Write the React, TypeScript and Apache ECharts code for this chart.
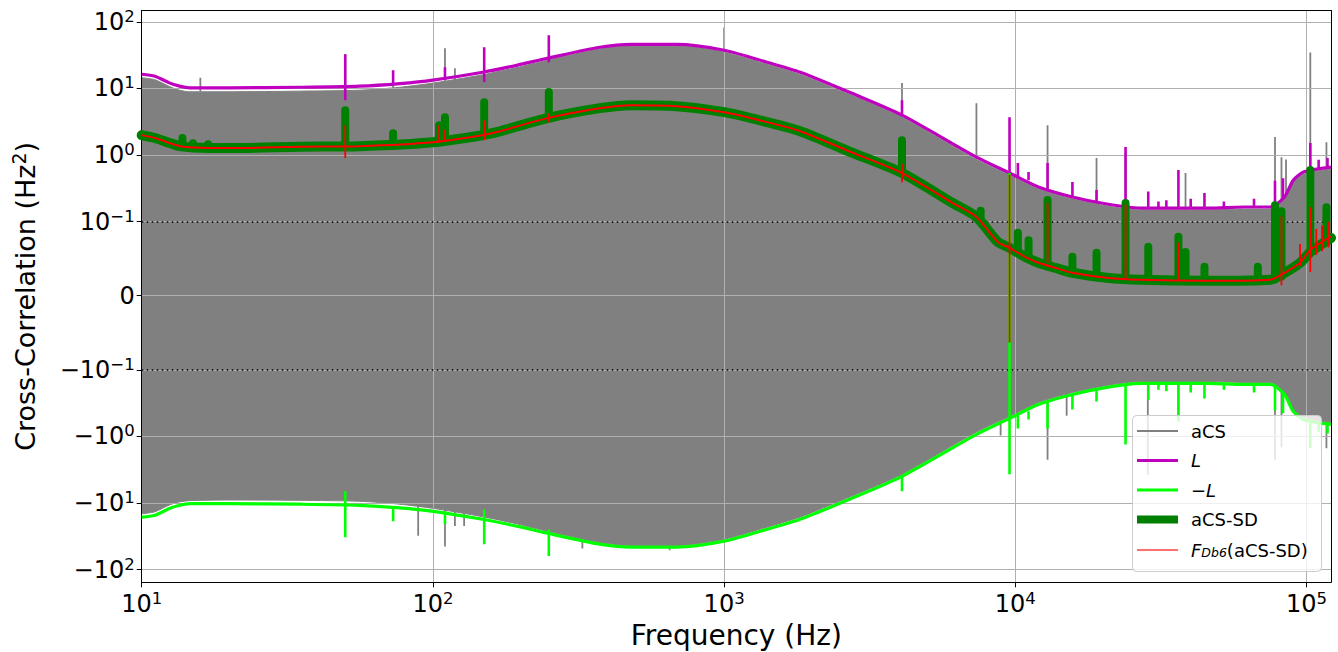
import React, { useEffect, useRef } from 'react';
import * as echarts from 'echarts';

// ---------- axes ----------
const X_MIN_HZ = 10;
const X_MAX_HZ = 121300;
const X_TICK_EXPONENTS = [1, 2, 3, 4, 5];
const Y_TICK_VALUES = [-100, -10, -1, -0.1, 0, 0.1, 1, 10, 100];
const Y_MIN_T = -4.3;
const Y_MAX_T = 4.28;
const DOTTED_LEVELS = [0.1, -0.1];

// ---------- L envelope (Hz, Hz^2) ----------
const FREQ_L = [10, 11.1, 12.5, 13.5, 14.6, 20, 35, 56, 77, 100, 148, 194, 247, 374, 483, 687, 1000, 1404, 1825, 2720, 4080, 7350, 9550, 12000, 15700, 20600, 26900, 46200, 60700, 75000, 84000, 90000, 98000, 121300];
const VAL_L = [16.3, 15.2, 12.0, 10.8, 10.2, 10.2, 10.4, 10.8, 11.8, 13.3, 17.5, 22.2, 28.3, 41.4, 45.8, 45.8, 37.3, 24.7, 17.5, 8.6, 3.97, 0.93, 0.537, 0.332, 0.235, 0.184, 0.16, 0.16, 0.166, 0.166, 0.235, 0.42, 0.56, 0.66];
const VAL_NEG_L = [-16.3, -15.2, -12.0, -10.8, -10.2, -10.2, -10.4, -10.8, -11.8, -13.3, -17.5, -22.2, -28.3, -41.4, -45.8, -45.8, -37.3, -24.7, -17.5, -8.6, -3.97, -0.93, -0.537, -0.332, -0.235, -0.184, -0.16, -0.16, -0.166, -0.166, -0.235, -0.42, -0.56, -0.66];
// spikes of L: [Hz, from, to]
const L_SPIKES = [[50, 6.65, 32.5], [73, 11.5, 18.7], [110, 13.5, 20.8], [150, 12.5, 41.4], [250, 24.7, 62.5], [4080, 3.97, 6.65], [9550, 0.537, 3.7], [10200, 0.45, 0.76], [11100, 0.42, 0.556], [12900, 0.3, 0.76], [15700, 0.235, 0.394], [19000, 0.19, 0.3], [23900, 0.17, 1.32], [28600, 0.16, 0.284], [31000, 0.16, 0.2], [33000, 0.16, 0.21], [36300, 0.16, 0.596], [40000, 0.16, 0.22], [44600, 0.16, 0.27], [52000, 0.16, 0.2], [66000, 0.17, 0.22], [77900, 0.17, 0.41], [83000, 0.22, 0.45], [103000, 0.55, 1.51], [110000, 0.6, 0.85], [118000, 0.62, 0.9]];
const NEG_L_SPIKES = [[50, -6.65, -32.5], [73, -11.5, -18.7], [110, -13.5, -20.8], [150, -12.5, -41.4], [250, -24.7, -62.5], [4080, -3.97, -6.65], [9550, 0.537, -3.7], [10200, -0.45, -0.76], [11100, -0.42, -0.556], [12900, -0.3, -0.76], [15700, -0.235, -0.394], [19000, -0.19, -0.3], [23900, -0.17, -1.32], [28600, -0.16, -0.284], [31000, -0.16, -0.2], [33000, -0.16, -0.21], [36300, -0.16, -0.596], [40000, -0.16, -0.22], [44600, -0.16, -0.27], [52000, -0.16, -0.2], [66000, -0.17, -0.22], [77900, -0.17, -0.41], [83000, -0.22, -0.45], [103000, -0.55, -1.51], [110000, -0.6, -0.85], [118000, -0.62, -0.9]];

// ---------- aCS (grey, dense oscillation) envelope ----------
const VAL_ACS_TOP = [14.5, 13.5, 10.6, 9.4, 8.9, 8.9, 9.1, 9.4, 10.4, 12.0, 16.0, 20.5, 26.5, 39, 43.5, 43.5, 35, 23, 16.2, 8.0, 3.7, 0.86, 0.5, 0.31, 0.22, 0.172, 0.15, 0.15, 0.155, 0.155, 0.22, 0.39, 0.52, 0.62];
const VAL_ACS_BOTTOM = [-14.5, -13.5, -10.6, -9.6, -9.2, -9.0, -9.1, -9.4, -10.4, -12.0, -16.0, -20.5, -26.5, -39, -43.5, -43.5, -35, -23, -16.2, -8.0, -3.7, -0.86, -0.5, -0.31, -0.22, -0.172, -0.15, -0.15, -0.155, -0.155, -0.22, -0.39, -0.52, -0.62];
const ACS_SPIKES_UP = [[15.9, 9, 14.5], [50, 9, 32.5], [73, 10, 18], [110, 12, 40], [119, 13, 20], [1000, 35, 82], [4080, 3.7, 12], [7350, 0.86, 6.0], [12900, 0.3, 2.8], [19000, 0.18, 0.9], [23900, 0.16, 1.1], [38400, 0.15, 0.537], [77900, 0.17, 1.86], [82000, 0.2, 0.93], [85000, 0.22, 0.86], [103000, 0.5, 34.6], [117000, 0.6, 1.55]];
const ACS_SPIKES_DOWN = [[89, -11, -31], [110, -12, -45], [119, -13, -22], [128, -14, -22], [326, -36, -48], [650, -43, -51], [8900, -0.6, -0.97], [12900, -0.3, -2.24], [15000, -0.22, -0.49], [28500, -0.15, -3.8], [36300, -0.15, -0.6], [77900, -0.17, -2.24], [82000, -0.2, -1.45], [117000, -0.6, -1.5]];

// ---------- aCS-SD ----------
const FREQ_SD = [10, 11.1, 12.5, 13.5, 15, 20, 35, 56, 100, 148, 167, 247, 374, 483, 650, 1000, 1404, 1825, 2720, 4080, 6100, 7350, 8700, 9550, 10800, 12000, 13700, 15700, 20600, 26900, 46000, 75000, 84000, 95000, 103000, 121300];
const VAL_SD = [1.99, 1.8, 1.51, 1.36, 1.3, 1.27, 1.33, 1.36, 1.56, 1.99, 2.23, 3.58, 5.05, 5.6, 5.5, 4.4, 3.12, 2.28, 1.11, 0.537, 0.19, 0.118, 0.0727, 0.0647, 0.0526, 0.0445, 0.0377, 0.031, 0.0243, 0.0216, 0.0202, 0.0216, 0.031, 0.0445, 0.059, 0.078];
const SD_SPIKES = [[13.8, 1.4, 1.8], [15.0, 1.3, 1.5], [16.9, 1.28, 1.45], [50, 1.35, 4.7], [73, 1.4, 2.13], [105, 1.6, 2.8], [110, 1.6, 3.7], [150, 2.0, 6.2], [250, 3.6, 8.8], [4080, 0.54, 1.67], [7600, 0.11, 0.146], [10200, 0.06, 0.085], [11100, 0.05, 0.075], [12900, 0.04, 0.212], [15700, 0.031, 0.0526], [19000, 0.026, 0.058], [23900, 0.023, 0.19], [28600, 0.021, 0.066], [36300, 0.021, 0.0795], [38400, 0.021, 0.059], [44600, 0.02, 0.039], [68000, 0.021, 0.039], [77900, 0.022, 0.177], [82000, 0.026, 0.143], [103000, 0.059, 0.596], [117000, 0.072, 0.165]];

// ---------- F_Db6(aCS-SD) ----------
const VAL_FDB6 = [1.99, 1.8, 1.51, 1.36, 1.3, 1.27, 1.33, 1.36, 1.56, 1.99, 2.23, 3.58, 5.05, 5.6, 5.5, 4.4, 3.12, 2.28, 1.11, 0.537, 0.19, 0.118, 0.0727, 0.0647, 0.0526, 0.0445, 0.0377, 0.031, 0.0243, 0.0216, 0.0202, 0.0216, 0.031, 0.0445, 0.062, 0.08];
const FDB6_SPIKES = [[50, 0.9, 2.8], [105, 1.56, 2.8], [110, 1.6, 2.4], [150, 1.67, 3.3], [250, 3.1, 4.2], [4080, 0.39, 0.74], [9550, -0.063, 0.51], [12900, 0.045, 0.19], [23900, 0.022, 0.18], [36300, 0.021, 0.072], [82000, 0.014, 0.12], [95000, 0.04, 0.07], [103000, 0.032, 0.165], [108000, 0.055, 0.09], [113000, 0.06, 0.095], [119000, 0.065, 0.1]];

// ---------- legend ----------
const LEGEND_LABELS = ['aCS', 'L', '−L', 'aCS-SD', 'F_Db6(aCS-SD)'];

// ---------- symlog transform (linthresh 0.1, linscale 1) ----------
const LINTHRESH = 0.1;
const LINSCALE_ADJ = 1 / (1 - 1 / 10);
const sym = (v: number) => {
  const a = Math.abs(v);
  if (a <= LINTHRESH) return (v / LINTHRESH) * LINSCALE_ADJ;
  return Math.sign(v) * (LINSCALE_ADJ + Math.log10(a / LINTHRESH));
};
const lx = (f: number) => Math.log10(f);
const curve = (fs: number[], vs: number[]) => fs.map((f, i) => [lx(f), sym(vs[i])]);
const segs = (rows: number[][]) => {
  const out: any[] = [];
  rows.forEach(([f, a, b]) => {
    out.push([lx(f), sym(a)], [lx(f), sym(b)], [lx(f), null]);
  });
  return out;
};

const FONT = 'DejaVu Sans';
const tickRich = {
  b: { fontSize: 24, fontFamily: FONT, color: '#000', lineHeight: 28 },
  s: { fontSize: 16.5, fontFamily: FONT, color: '#000', lineHeight: 17, verticalAlign: 'top' },
};

const yLabel = (u: number) => {
  const v = Y_TICK_VALUES.find((t) => Math.abs(sym(t) - u) < 1e-6);
  if (v === undefined) return '';
  if (v === 0) return '{b|0}';
  const e = Math.round(Math.log10(Math.abs(v)));
  const es = e < 0 ? '−' + Math.abs(e) : String(e);
  return `{b|${v < 0 ? '−' : ''}10}{s|${es}}`;
};

const C_GRAY = '#808080';
const C_MAG = '#bf00bf';
const C_LIME = '#00ff00';
const C_GREEN = '#008000';
const C_RED = '#ff0000';
const SMOOTH = 0.25;

export default function App() {
  const ref = useRef<HTMLDivElement>(null);
  useEffect(() => {
    if (!ref.current) return;
    const chart = echarts.init(ref.current, null, { renderer: 'svg' });
    const xMin = lx(X_MIN_HZ);
    const xMax = lx(X_MAX_HZ);
    const yTicksT = Y_TICK_VALUES.map(sym);
    const lineBase = { type: 'line', showSymbol: false, symbol: 'none', silent: true, connectNulls: false };

    const legendY = [431, 460.5, 490, 519.5, 550];
    const legendX1 = 1137, legendX2 = 1178, legendTX = 1191;
    const handles = [
      { color: C_GRAY, w: 2 },
      { color: C_MAG, w: 3 },
      { color: C_LIME, w: 3 },
      { color: C_GREEN, w: 8 },
      { color: '#ff4040', w: 1.5 },
    ];
    const lgRich = {
      n: { fontSize: 18, fontFamily: FONT, fill: '#000', color: '#000' },
      i: { fontSize: 18, fontFamily: FONT, fontStyle: 'italic', fill: '#000', color: '#000' },
      sub: { fontSize: 12.5, fontFamily: FONT, fontStyle: 'italic', fill: '#000', color: '#000', verticalAlign: 'bottom', lineHeight: 12 },
    };
    const legendTexts = [
      `{n|${LEGEND_LABELS[0]}}`,
      `{i|${LEGEND_LABELS[1]}}`,
      `{n|−}{i|L}`,
      `{n|${LEGEND_LABELS[3]}}`,
      `{i|F}{sub|Db6}{n|(aCS-SD)}`,
    ];
    const graphicEls: any[] = [
      {
        type: 'rect', z: 100,
        shape: { x: 1132.5, y: 415.5, width: 189, height: 156, r: 4 },
        style: { fill: 'rgba(255,255,255,0.8)', stroke: '#cccccc', lineWidth: 1 },
      },
    ];
    handles.forEach((h, i) => {
      graphicEls.push({
        type: 'line', z: 101,
        shape: { x1: legendX1, y1: legendY[i], x2: legendX2, y2: legendY[i] },
        style: { stroke: h.color, lineWidth: h.w },
      });
      graphicEls.push({
        type: 'text', z: 101, x: legendTX, y: legendY[i],
        style: { text: legendTexts[i], rich: lgRich, verticalAlign: 'middle', align: 'left', fontSize: 18, fontFamily: FONT, fill: '#000' },
      });
    });

    const option: any = {
      animation: false,
      grid: { left: 141.7, right: 7, top: 10.5, bottom: 69.7, containLabel: false, outerBoundsMode: 'none' },
      xAxis: [
        {
          type: 'value', min: xMin, max: xMax, z: 2,
          axisLine: { show: true, onZero: false, lineStyle: { color: '#000', width: 1 } },
          axisTick: { show: true, length: 5, lineStyle: { color: '#000', width: 1 }, customValues: X_TICK_EXPONENTS },
          axisLabel: { customValues: X_TICK_EXPONENTS, margin: 8, formatter: (v: number) => `{b|10}{s|${Math.round(v)}}`, rich: tickRich },
          splitLine: { show: true, lineStyle: { color: '#b0b0b0', width: 1 } },
          name: 'Frequency (Hz)', nameLocation: 'middle', nameGap: 39,
          nameTextStyle: { fontSize: 28, fontFamily: FONT, color: '#000', lineHeight: 29 },
        },
        {
          type: 'value', position: 'top', min: xMin, max: xMax, z: 2,
          axisLine: { show: true, onZero: false, lineStyle: { color: '#000', width: 1 } },
          axisTick: { show: false }, axisLabel: { show: false }, splitLine: { show: false },
        },
      ],
      yAxis: [
        {
          type: 'value', min: Y_MIN_T, max: Y_MAX_T, z: 2,
          axisLine: { show: true, onZero: false, lineStyle: { color: '#000', width: 1 } },
          axisTick: { show: true, length: 5, lineStyle: { color: '#000', width: 1 }, customValues: yTicksT },
          axisLabel: { customValues: yTicksT, margin: 7, formatter: yLabel, rich: tickRich },
          splitLine: { show: true, lineStyle: { color: '#b0b0b0', width: 1 } },
          name: '{a|Cross-Correlation (Hz}{s|2}{a|)}', nameLocation: 'middle', nameRotate: 90, nameGap: 101,
          nameTextStyle: {
            fontSize: 27, fontFamily: FONT, color: '#000',
            rich: {
              a: { fontSize: 27, fontFamily: FONT, color: '#000', lineHeight: 31 },
              s: { fontSize: 19, fontFamily: FONT, color: '#000', lineHeight: 19, verticalAlign: 'top' },
            },
          },
        },
        {
          type: 'value', position: 'right', min: Y_MIN_T, max: Y_MAX_T, z: 2,
          axisLine: { show: true, onZero: false, lineStyle: { color: '#000', width: 1 } },
          axisTick: { show: false }, axisLabel: { show: false }, splitLine: { show: false },
        },
      ],
      series: [
        {
          ...lineBase, name: 'aCS top', z: 1, data: curve(FREQ_L, VAL_ACS_TOP), smooth: SMOOTH,
          lineStyle: { color: C_GRAY, width: 1 }, areaStyle: { color: C_GRAY, opacity: 1, origin: 'auto' },
        },
        {
          ...lineBase, name: 'aCS bottom', z: 1, data: curve(FREQ_L, VAL_ACS_BOTTOM), smooth: SMOOTH,
          lineStyle: { color: C_GRAY, width: 1 }, areaStyle: { color: C_GRAY, opacity: 1, origin: 'auto' },
        },
        { ...lineBase, name: 'aCS spikes up', z: 1, data: segs(ACS_SPIKES_UP), lineStyle: { color: C_GRAY, width: 1.8 } },
        { ...lineBase, name: 'aCS spikes down', z: 1, data: segs(ACS_SPIKES_DOWN), lineStyle: { color: C_GRAY, width: 1.8 } },
        {
          ...lineBase, name: 'dotted', z: 3, data: [],
          markLine: {
            silent: true, symbol: ['none', 'none'], z: 3, label: { show: false },
            lineStyle: { color: '#000', width: 1.6, type: [1.6, 3.4] },
            data: DOTTED_LEVELS.map((v) => ({ yAxis: sym(v) })),
          },
        },
        { ...lineBase, name: 'L', z: 4, data: curve(FREQ_L, VAL_L), smooth: SMOOTH, lineStyle: { color: C_MAG, width: 3.2, join: 'round' } },
        { ...lineBase, name: 'L spikes', z: 4, data: segs(L_SPIKES), lineStyle: { color: C_MAG, width: 2.6 } },
        { ...lineBase, name: '−L', z: 4, data: curve(FREQ_L, VAL_NEG_L), smooth: SMOOTH, lineStyle: { color: C_LIME, width: 3.2, join: 'round' } },
        { ...lineBase, name: '−L spikes', z: 4, data: segs(NEG_L_SPIKES), lineStyle: { color: C_LIME, width: 2.6 } },
        { ...lineBase, name: 'aCS-SD', z: 5, data: curve(FREQ_SD, VAL_SD), smooth: SMOOTH, lineStyle: { color: C_GREEN, width: 10, join: 'round', cap: 'round' } },
        { ...lineBase, name: 'aCS-SD spikes', z: 5, data: segs(SD_SPIKES), lineStyle: { color: C_GREEN, width: 8, cap: 'round' } },
        { ...lineBase, name: 'F_Db6', z: 6, data: curve(FREQ_SD, VAL_FDB6), smooth: SMOOTH, lineStyle: { color: C_RED, width: 2, join: 'round' } },
        { ...lineBase, name: 'F_Db6 spikes', z: 6, data: segs(FDB6_SPIKES), lineStyle: { color: C_RED, width: 1.8 } },
      ],
      graphic: { elements: graphicEls },
    };
    chart.setOption(option);
    return () => chart.dispose();
  }, []);
  return <div ref={ref} style={{ position: 'absolute', left: 0, top: 0, width: 1338, height: 652 }} />;
}
